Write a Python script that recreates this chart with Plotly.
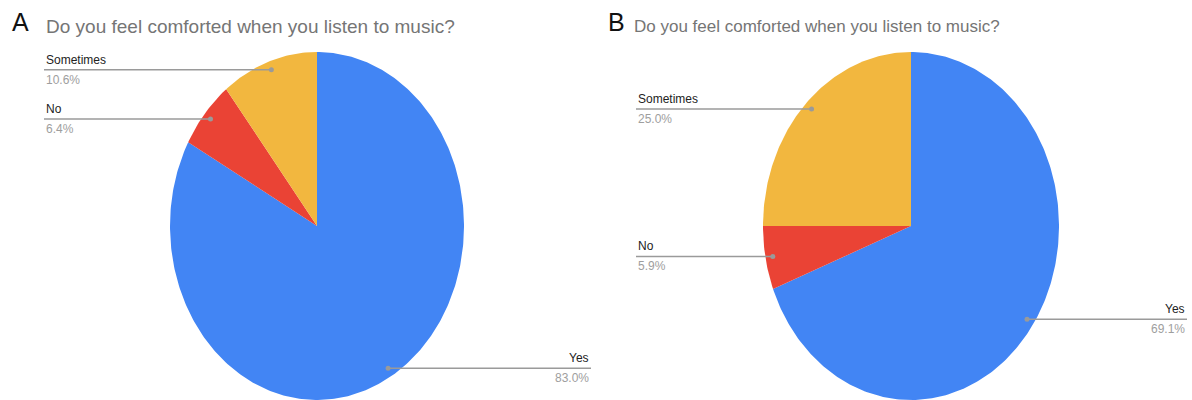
import numpy as np
import plotly.graph_objects as go

# Survey answers to "Do you feel comforted when you listen to music?"
categories = ["Yes", "No", "Sometimes"]
survey_a = [83.0, 6.4, 10.6]
survey_b = [69.1, 5.9, 25.0]

slice_colors = {"Yes": "#4285F4", "No": "#EA4335", "Sometimes": "#F2B73F"}
question = "Do you feel comforted when you listen to music?"

W, H = 1192, 400
FONT = "Arial, Liberation Sans, sans-serif"

# Panel layout in page pixels: pie centre, radii, label columns, title placement
panels = [
    dict(letter="A", values=survey_a, cx=317, cy=226, rx=147, ry=174,
         left_x=44, right_x=591, letter_x=10, title_x=44, title_size=19),
    dict(letter="B", values=survey_b, cx=911, cy=226, rx=148, ry=174,
         left_x=636, right_x=1187, letter_x=606, title_x=632, title_size=17),
]

fig = go.Figure()
annotations = []


def ellipse_point(p, frac, r=1.0):
    ang = 2 * np.pi * frac
    return p["cx"] + p["rx"] * r * np.sin(ang), p["cy"] - p["ry"] * r * np.cos(ang)


for p in panels:
    total = sum(p["values"])
    start = 0.0
    for cat, val in zip(categories, p["values"]):
        frac = val / total
        end = start + frac
        ts = np.linspace(start, end, max(3, int(frac * 400)))
        xs, ys = ellipse_point(p, ts)
        xs = np.concatenate([[p["cx"]], xs, [p["cx"]]])
        ys = np.concatenate([[p["cy"]], ys, [p["cy"]]])
        fig.add_trace(go.Scatter(
            x=xs, y=ys, mode="lines", fill="toself",
            fillcolor=slice_colors[cat], line=dict(width=0, color=slice_colors[cat]),
            hoverinfo="text", text=f"{cat}: {val:.1f}%", showlegend=False))

        # Leader line from a dot inside the slice out to the label column
        dx, dy = ellipse_point(p, (start + end) / 2, 0.95)
        on_left = dx < p["cx"]
        lx = p["left_x"] if on_left else p["right_x"]
        fig.add_trace(go.Scatter(
            x=[dx, lx], y=[dy, dy], mode="lines",
            line=dict(color="#9a9a9a", width=1.5),
            hoverinfo="skip", showlegend=False))
        fig.add_trace(go.Scatter(
            x=[dx], y=[dy], mode="markers",
            marker=dict(color="#9a9a9a", size=5),
            hoverinfo="skip", showlegend=False))
        anchor = "left" if on_left else "right"
        annotations.append(dict(
            x=lx, y=dy - 1, text=cat, showarrow=False,
            xanchor=anchor, yanchor="bottom", xref="x", yref="y",
            font=dict(family=FONT, size=12, color="#222222")))
        annotations.append(dict(
            x=lx, y=dy + 1, text=f"{val:.1f}%", showarrow=False,
            xanchor=anchor, yanchor="top", xref="x", yref="y",
            font=dict(family=FONT, size=12, color="#9e9e9e")))
        start = end

    annotations.append(dict(
        x=p["letter_x"], y=22, text=p["letter"], showarrow=False,
        xanchor="left", yanchor="middle", xref="x", yref="y",
        font=dict(family=FONT, size=25, color="#111111")))
    annotations.append(dict(
        x=p["title_x"], y=26, text=question, showarrow=False,
        xanchor="left", yanchor="middle", xref="x", yref="y",
        font=dict(family=FONT, size=p["title_size"], color="#757575")))

fig.update_layout(
    width=W, height=H,
    margin=dict(l=0, r=0, t=0, b=0, pad=0),
    paper_bgcolor="white", plot_bgcolor="white",
    xaxis=dict(range=[0, W], visible=False, fixedrange=True),
    yaxis=dict(range=[H, 0], visible=False, fixedrange=True),
    annotations=annotations,
    showlegend=False,
)

fig.write_html("out.html")
